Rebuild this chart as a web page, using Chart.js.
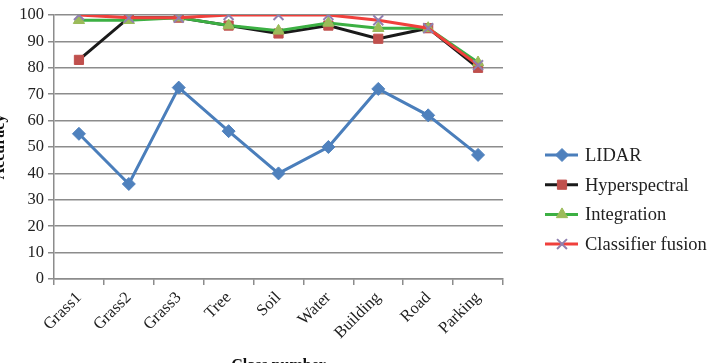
<!DOCTYPE html>
<html lang="en">
<head>
    <meta charset="UTF-8">
    <title>Accuracy by class</title>
    <script src="https://cdn.jsdelivr.net/npm/chart.js"></script>
    <style>
        html, body { margin: 0; padding: 0; background: #fff; overflow: hidden; width: 717px; height: 363px; }
        #chart { position: absolute; left: -10px; top: 0; }
    </style>
</head>
<body>
    <canvas id="chart" width="727" height="375"></canvas>

    <script>
        const classes = ['Grass1', 'Grass2', 'Grass3', 'Tree', 'Soil', 'Water', 'Building', 'Road', 'Parking'];
        const lidar = [55, 36, 72.5, 56, 40, 50, 72, 62, 47];
        const hyperspectral = [83, 99, 99, 96, 93, 96, 91, 95, 80];
        const integration = [98, 98, 99, 96, 94, 97, 95, 95, 82];
        const classifierFusion = [100, 99, 99, 100, 100, 100, 98, 95, 81];
        const yTicks = [0, 10, 20, 30, 40, 50, 60, 70, 80, 90, 100];

        const serif = "'Liberation Serif', 'DejaVu Serif', serif";

        // legend drawn as line + marker, like the spreadsheet original
        const lineLegend = {
            id: 'lineLegend',
            afterDraw(chart) {
                const ctx = chart.ctx;
                const x0 = chart.chartArea.right + 42;
                let y = 155;
                chart.data.datasets.forEach(ds => {
                    ctx.save();
                    ctx.strokeStyle = ds.borderColor;
                    ctx.lineWidth = ds.borderWidth;
                    ctx.beginPath();
                    ctx.moveTo(x0, y);
                    ctx.lineTo(x0 + 33, y);
                    ctx.stroke();
                    ctx.fillStyle = ds.pointBackgroundColor;
                    ctx.strokeStyle = ds.pointBorderColor;
                    ctx.lineWidth = ds.pointBorderWidth;
                    Chart.helpers.drawPoint(ctx, {
                        pointStyle: ds.pointStyle,
                        radius: ds.pointRadius,
                        rotation: 0,
                        borderWidth: ds.pointBorderWidth
                    }, x0 + 17, y);
                    ctx.fillStyle = '#222';
                    ctx.font = '18.5px ' + serif;
                    ctx.textBaseline = 'middle';
                    ctx.fillText(ds.label, x0 + 40, y + 1);
                    ctx.restore();
                    y += 29.7;
                });
            }
        };

        new Chart(document.getElementById('chart'), {
            type: 'line',
            data: {
                labels: classes,
                datasets: [
                    {
                        label: 'LIDAR', data: lidar, order: 3,
                        borderColor: '#4a7ebb', borderWidth: 3,
                        pointStyle: 'rectRot', pointRadius: 6.5,
                        pointBackgroundColor: '#4f81bd', pointBorderColor: '#4f81bd', pointBorderWidth: 1
                    },
                    {
                        label: 'Hyperspectral', data: hyperspectral, order: 2,
                        borderColor: '#1a1a1a', borderWidth: 3,
                        pointStyle: 'rect', pointRadius: 6.5,
                        pointBackgroundColor: '#c0504d', pointBorderColor: '#c0504d', pointBorderWidth: 1
                    },
                    {
                        label: 'Integration', data: integration, order: 1,
                        borderColor: '#3cb043', borderWidth: 3,
                        pointStyle: 'triangle', pointRadius: 6.5,
                        pointBackgroundColor: '#9bbb59', pointBorderColor: '#9bbb59', pointBorderWidth: 1
                    },
                    {
                        label: 'Classifier fusion', data: classifierFusion, order: 0,
                        borderColor: '#f0403c', borderWidth: 3,
                        pointStyle: 'crossRot', pointRadius: 7,
                        pointBackgroundColor: '#9080b0', pointBorderColor: '#9080b0', pointBorderWidth: 2
                    }
                ]
            },
            options: {
                responsive: false,
                animation: false,
                layout: { padding: { top: 15, right: 214, left: 0, bottom: 0 } },
                plugins: {
                    legend: { display: false },
                    tooltip: { enabled: false }
                },
                scales: {
                    x: {
                        offset: true,
                        afterFit(scale) { scale.height = 96; },
                        grid: { offset: true, drawOnChartArea: false, drawTicks: true, tickLength: 6, color: '#8c8c8c', lineWidth: 1.5 },
                        border: { color: '#8c8c8c', width: 1.5 },
                        ticks: { minRotation: 45, maxRotation: 45, color: '#222', font: { family: serif, size: 16.5 }, padding: 3 },
                        title: { display: true, text: 'Class number', color: '#111', font: { family: serif, size: 16, weight: 'bold' }, padding: { top: 0, bottom: 0 } }
                    },
                    y: {
                        min: 0, max: 100,
                        afterFit(scale) { scale.width = 64; },
                        afterBuildTicks(scale) { scale.ticks = yTicks.map(v => ({ value: v })); },
                        grid: { color: '#8c8c8c', lineWidth: 1.5, drawTicks: true, tickLength: 6 },
                        border: { color: '#8c8c8c', width: 1.5 },
                        ticks: { color: '#222', font: { family: serif, size: 16.5 }, padding: 4 },
                        title: { display: true, text: 'Accuracy', color: '#111', font: { family: serif, size: 16, weight: 'bold' }, padding: 0 }
                    }
                }
            },
            plugins: [lineLegend]
        });
    </script>
</body>
</html>
